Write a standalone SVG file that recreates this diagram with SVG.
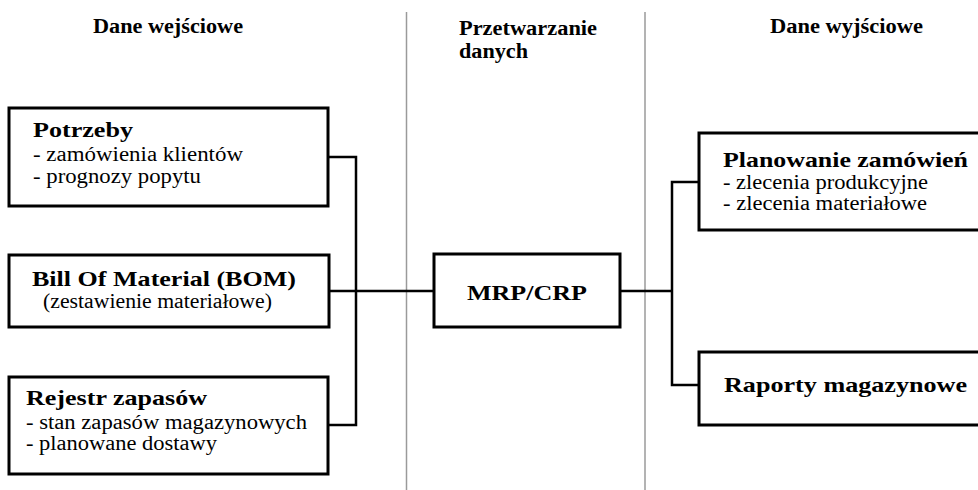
<svg xmlns="http://www.w3.org/2000/svg" width="978" height="490" viewBox="0 0 978 490">
<style>
  .box { fill: #ffffff; stroke: #000000; stroke-width: 3; }
  .conn { fill: none; stroke: #000000; stroke-width: 2.5; }
  .div { stroke: #9a9a9a; stroke-width: 1.5; }
  .t { font-family: "Liberation Serif", "Times New Roman", Times, Tinos, "Nimbus Roman", "Noto Serif", "DejaVu Serif", FreeSerif, serif; fill: #000000; }
  .hdr { font-size: 20px; font-weight: bold; }
  .ttl { font-size: 22px; font-weight: bold; }
  .sub { font-size: 20px; font-weight: normal; }
</style>
<rect x="0" y="0" width="978" height="490" fill="#ffffff"/>
<g id="dividers">
  <line class="div" x1="406.5" y1="12" x2="406.5" y2="490"/>
  <line class="div" x1="645" y1="12" x2="645" y2="490"/>
</g>
<g id="headers">
  <text class="t hdr" x="93" y="33" textLength="150" lengthAdjust="spacingAndGlyphs">Dane wejściowe</text>
  <text class="t hdr" x="459" y="35" textLength="138" lengthAdjust="spacingAndGlyphs">Przetwarzanie</text>
  <text class="t hdr" x="459" y="58" textLength="69" lengthAdjust="spacingAndGlyphs">danych</text>
  <text class="t hdr" x="770" y="33" textLength="153" lengthAdjust="spacingAndGlyphs">Dane wyjściowe</text>
</g>
<g id="connectors">
  <polyline class="conn" points="328,157 356,157 356,425 328,425"/>
  <line class="conn" x1="329" y1="291" x2="434" y2="291"/>
  <line class="conn" x1="620" y1="291" x2="672" y2="291"/>
  <polyline class="conn" points="699,182 672,182 672,385 699,385"/>
</g>
<g id="node-potrzeby">
  <rect class="box" x="9" y="108" width="319" height="98"/>
  <text class="t ttl" x="33" y="137" textLength="100" lengthAdjust="spacingAndGlyphs">Potrzeby</text>
  <text class="t sub" x="33" y="161" textLength="210" lengthAdjust="spacingAndGlyphs">- zamówienia klientów</text>
  <text class="t sub" x="33" y="183" textLength="168" lengthAdjust="spacingAndGlyphs">- prognozy popytu</text>
</g>
<g id="node-bom">
  <rect class="box" x="9" y="255" width="320" height="72"/>
  <text class="t ttl" x="32" y="286" textLength="264" lengthAdjust="spacingAndGlyphs">Bill Of Material (BOM)</text>
  <text class="t sub" x="43" y="308" textLength="229" lengthAdjust="spacingAndGlyphs">(zestawienie materiałowe)</text>
</g>
<g id="node-rejestr">
  <rect class="box" x="9" y="377" width="319" height="97"/>
  <text class="t ttl" x="26" y="405" textLength="181" lengthAdjust="spacingAndGlyphs">Rejestr zapasów</text>
  <text class="t sub" x="26" y="429" textLength="281" lengthAdjust="spacingAndGlyphs">- stan zapasów magazynowych</text>
  <text class="t sub" x="26" y="450" textLength="191" lengthAdjust="spacingAndGlyphs">- planowane dostawy</text>
</g>
<g id="node-mrp">
  <rect class="box" x="434" y="254" width="186" height="73"/>
  <text class="t ttl" x="467" y="300" textLength="120" lengthAdjust="spacingAndGlyphs">MRP/CRP</text>
</g>
<g id="node-planowanie">
  <rect class="box" x="699" y="133" width="300" height="97"/>
  <text class="t ttl" x="723" y="167" textLength="245" lengthAdjust="spacingAndGlyphs">Planowanie zamówień</text>
  <text class="t sub" x="723" y="189" textLength="205" lengthAdjust="spacingAndGlyphs">- zlecenia produkcyjne</text>
  <text class="t sub" x="723" y="210" textLength="204" lengthAdjust="spacingAndGlyphs">- zlecenia materiałowe</text>
</g>
<g id="node-raporty">
  <rect class="box" x="699" y="352" width="300" height="73"/>
  <text class="t ttl" x="724" y="392" textLength="243" lengthAdjust="spacingAndGlyphs">Raporty magazynowe</text>
</g>
</svg>
